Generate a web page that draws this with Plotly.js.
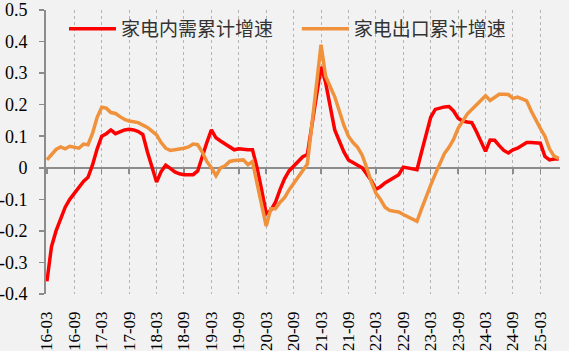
<!DOCTYPE html>
<html><head><meta charset="utf-8">
<script src="https://cdn.plot.ly/plotly-3.0.1.min.js"></script>
<style>html,body{margin:0;padding:0;background:#f2f2f2}</style>
</head><body><div id="chart" style="width:569px;height:351px"></div>
<script>
// monthly categories 16-03 ... 25-07
const months = [];
for (let y = 16; y <= 25; y++) {
  for (let m = 1; m <= 12; m++) {
    if ((y === 16 && m < 3) || (y === 25 && m > 7)) continue;
    months.push(y + '-' + String(m).padStart(2, '0'));
  }
}
const xTickLabels = ['16-03','16-09','17-03','17-09','18-03','18-09','19-03','19-09','20-03','20-09',
  '21-03','21-09','22-03','22-09','23-03','23-09','24-03','24-09','25-03'];
const yTickVals = [0.5,0.4,0.3,0.2,0.1,0,-0.1,-0.2,-0.3,-0.4];
const yTickText = ['0.5','0.4','0.3','0.2','0.1','0','-0.1','-0.2','-0.3','-0.4'];

const seriesNames = ['家电内需累计增速', '家电出口累计增速'];

const domestic = [
  -0.36,-0.25,-0.20,-0.16,-0.125,-0.10,-0.08,-0.06,-0.043,-0.03,
  0.01,0.06,0.10,0.108,0.12,0.108,0.115,0.12,0.122,0.12,
  0.115,0.105,0.05,0.0,-0.045,-0.012,0.008,-0.002,-0.013,-0.019,
  -0.022,-0.022,-0.022,-0.01,0.04,0.08,0.12,0.095,0.085,0.075,
  0.065,0.057,0.06,0.058,0.057,0.057,0.0,-0.07,-0.145,-0.135,
  -0.11,-0.07,-0.035,-0.01,0.005,0.018,0.035,0.042,0.135,0.23,
  0.32,0.27,0.2,0.12,0.085,0.05,0.025,0.015,0.008,0.0,
  -0.02,-0.04,-0.068,-0.06,-0.048,-0.04,-0.03,-0.022,0.002,0.0,
  -0.003,-0.006,0.05,0.11,0.16,0.185,0.19,0.193,0.194,0.18,
  0.157,0.148,0.145,0.143,0.115,0.085,0.052,0.088,0.087,0.07,
  0.055,0.047,0.057,0.062,0.072,0.08,0.08,0.08,0.078,0.036,
  0.025,0.028,0.028
];
const exportGrowth = [
  0.025,0.04,0.058,0.066,0.06,0.068,0.066,0.062,0.075,0.073,
  0.11,0.16,0.192,0.189,0.175,0.172,0.162,0.153,0.148,0.145,
  0.143,0.135,0.128,0.116,0.104,0.08,0.062,0.055,0.057,0.058,
  0.062,0.066,0.075,0.073,0.05,0.02,0.0,-0.025,0.0,0.006,
  0.02,0.023,0.025,0.025,0.01,0.02,-0.05,-0.12,-0.185,-0.13,
  -0.13,-0.11,-0.095,-0.07,-0.05,-0.03,-0.01,0.012,0.137,0.263,
  0.39,0.29,0.255,0.225,0.18,0.135,0.1,0.08,0.065,0.04,
  0.0,-0.045,-0.08,-0.1,-0.125,-0.135,-0.138,-0.14,-0.148,-0.155,
  -0.163,-0.17,-0.13,-0.09,-0.055,-0.02,0.01,0.045,0.065,0.09,
  0.125,0.15,0.17,0.185,0.2,0.215,0.228,0.213,0.222,0.233,
  0.233,0.232,0.22,0.224,0.218,0.212,0.18,0.15,0.125,0.1,
  0.06,0.037,0.03
];

const xr = [-0.2, 112.3];
const axisGray = '#8c8c8c';
const serif = 'Liberation Serif';
const legendFont = {family: 'Noto Sans CJK SC', size: 19, color: '#333'};

const traces = [
  {x: months, y: domestic, name: seriesNames[0], type: 'scatter', mode: 'lines',
   line: {color: '#ff0000', width: 3.5}, xaxis: 'x', yaxis: 'y', legend: 'legend'},
  {x: months, y: exportGrowth, name: seriesNames[1], type: 'scatter', mode: 'lines',
   line: {color: '#f0913c', width: 3.5}, xaxis: 'x2', yaxis: 'y', legend: 'legend2'}
];

const layout = {
  width: 569, height: 351,
  margin: {l: 46, r: 9, t: 10, b: 57},
  paper_bgcolor: '#f2f2f2', plot_bgcolor: '#f2f2f2',
  showlegend: true,
  legend: {orientation: 'h', x: 0.035, y: 1.0, xanchor: 'left', yanchor: 'top',
    bgcolor: 'rgba(0,0,0,0)', itemwidth: 47, font: legendFont},
  legend2: {orientation: 'h', x: 0.488, y: 1.0, xanchor: 'left', yanchor: 'top',
    bgcolor: 'rgba(0,0,0,0)', itemwidth: 47, font: legendFont},
  xaxis: {type: 'category', range: xr, tickmode: 'array', tickvals: xTickLabels, ticktext: xTickLabels,
    tickangle: -90, ticks: '', showline: false, zeroline: false,
    showgrid: true, gridcolor: '#b5b5b5', griddash: 'dot', gridwidth: 1,
    tickfont: {family: serif, size: 17, color: '#000'}, ticklabelstandoff: 13},
  xaxis2: {type: 'category', range: xr, overlaying: 'x', anchor: 'free', position: 0.4/0.9,
    tickmode: 'array', tickvals: xTickLabels, showticklabels: false,
    showline: true, linecolor: axisGray, linewidth: 2,
    ticks: 'outside', ticklen: 5, tickcolor: axisGray, tickwidth: 1.5,
    showgrid: false, zeroline: false, layer: 'below traces'},
  yaxis: {range: [-0.4, 0.5], tickmode: 'array', tickvals: yTickVals, ticktext: yTickText,
    showline: true, linecolor: axisGray, linewidth: 2,
    ticks: 'outside', ticklen: 5, tickcolor: axisGray, tickwidth: 1.5,
    showgrid: false, zeroline: false,
    tickfont: {family: serif, size: 18, color: '#000'}, ticklabelstandoff: 8}
};

Plotly.newPlot('chart', traces, layout, {displayModeBar: false, staticPlot: true});
</script></body></html>
